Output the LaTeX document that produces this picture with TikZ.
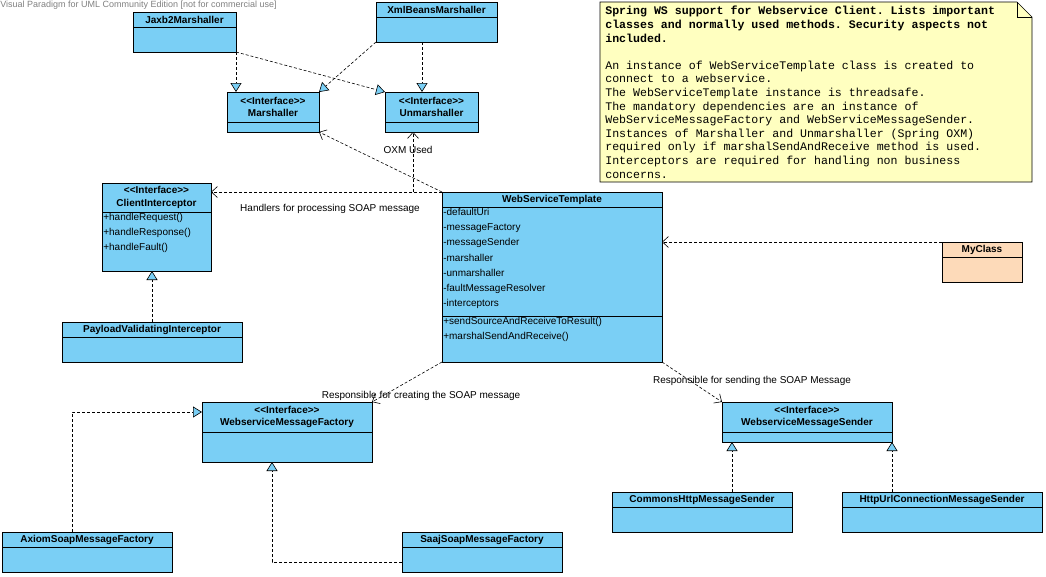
\documentclass[tikz,border=0pt]{standalone}
\usepackage{fontspec}
\setmainfont{Liberation Sans}
\setmonofont{Liberation Mono}
\usetikzlibrary{arrows.meta,positioning}
\definecolor{clsblue}{RGB}{122,207,245}
\definecolor{notey}{RGB}{255,255,192}
\definecolor{myorange}{RGB}{253,218,185}
\tikzset{
  real/.style={densely dashed,-{Triangle[open,fill=clsblue,length=9pt,width=11pt]}},
  dep/.style={densely dashed,-{Straight Barb[length=6pt,width=11pt]}},
  hdr/.style={font=\bfseries\fontsize{10}{12.5}\selectfont,align=center,inner sep=0pt},
  mem/.style={font=\fontsize{10}{15.2}\selectfont,align=left,anchor=north west,inner sep=1pt},
  lbl/.style={font=\fontsize{10}{11}\selectfont,inner sep=1pt}
}
\newcommand{\st}{<\kern0pt<Interface>\kern0pt>}
% class box: name, x1, y1, x2, y2, separator y, header text, fill
\newcommand{\umlbox}[8]{%
  \draw[fill=#8] (#2,#3) rectangle (#4,#5);
  \draw (#2,#6) -- (#4,#6);
  \node[hdr] (#1) at ({(#2+#4)/2},{(#3+#6)/2}) {#7};
  \coordinate (#1-nw) at (#2,#3);
  \coordinate (#1-se) at (#4,#5);
}
\begin{document}
\begin{tikzpicture}[x=1pt,y=-1pt,semithick]
\useasboundingbox (0,0) rectangle (1046,576);

\node[anchor=north west,text=gray,font=\fontsize{9}{10}\selectfont,inner sep=0pt] (wm) at (0,1) {Visual Paradigm for UML Community Edition [not for commercial use]};

% marshallers
\umlbox{jaxb}{133}{12}{236}{52}{27}{Jaxb2Marshaller}{clsblue}
\umlbox{xmlb}{376}{2}{497}{42}{17}{XmlBeansMarshaller}{clsblue}
\umlbox{marsh}{227}{92}{319}{132}{122}{\st\\Marshaller}{clsblue}
\umlbox{unmarsh}{385}{92}{478}{132}{122}{\st\\Unmarshaller}{clsblue}

% interceptors
\umlbox{cint}{102}{183}{211}{271}{212}{\st\\ClientInterceptor}{clsblue}
\node[mem] (cintm) at (102,212) {+handleRequest()\\+handleResponse()\\+handleFault()};
\umlbox{pvi}{62}{322}{242}{362}{337}{PayloadValidatingInterceptor}{clsblue}

% template
\umlbox{wst}{442}{192}{662}{362}{207}{WebServiceTemplate}{clsblue}
\draw (442,316) -- (662,316);
\node[mem] (wsta) at (442,207) {-defaultUri\\-messageFactory\\-messageSender\\-marshaller\\-unmarshaller\\-faultMessageResolver\\-interceptors};
\node[mem] (wstm) at (442,316) {+sendSourceAndReceiveToResult()\\+marshalSendAndReceive()};
\umlbox{mycls}{942}{242}{1022}{282}{257}{MyClass}{myorange}

% note
\draw[fill=notey] (600,2) -- (1017,2) -- (1032,17) -- (1032,182) -- (600,182) -- cycle;
\draw (1017,2) -- (1017,17) -- (1032,17);
\node[anchor=north west,align=left,inner sep=0pt,font=\ttfamily\fontsize{11.6}{13.6}\selectfont] (note) at (605,6)
 {\textbf{Spring WS support for Webservice Client. Lists important}\\
  \textbf{classes and normally used methods. Security aspects not}\\
  \textbf{included.}\\[13.6pt]
  An instance of WebServiceTemplate class is created to\\
  connect to a webservice.\\
  The WebServiceTemplate instance is threadsafe.\\
  The mandatory dependencies are an instance of\\
  WebServiceMessageFactory and WebServiceMessageSender.\\
  Instances of Marshaller and Unmarshaller (Spring OXM)\\
  required only if marshalSendAndReceive method is used.\\
  Interceptors are required for handling non business\\
  concerns.};

% factories and senders
\umlbox{fact}{202}{402}{372}{462}{432}{\st\\WebserviceMessageFactory}{clsblue}
\umlbox{send}{722}{402}{892}{442}{432}{\st\\WebserviceMessageSender}{clsblue}
\umlbox{chms}{612}{492}{792}{532}{507}{CommonsHttpMessageSender}{clsblue}
\umlbox{hucms}{842}{492}{1042}{532}{507}{HttpUrlConnectionMessageSender}{clsblue}
\umlbox{axiom}{2}{532}{172}{572}{547}{AxiomSoapMessageFactory}{clsblue}
\umlbox{saaj}{402}{532}{562}{572}{547}{SaajSoapMessageFactory}{clsblue}

% realizations
\draw[real] (jaxb-se) -- (jaxb-se|-marsh-nw);
\draw[real] (jaxb-se) -- (unmarsh-nw);
\draw[real] (xmlb-nw|-xmlb-se) -- (marsh-se|-marsh-nw);
\draw[real] (422,42) -- (422,92);
\draw[real] (152,322) -- (152,271);
\draw[real] (732,492) -- (732,442);
\draw[real] (892,492) -- (892,442);
\draw[real] (72,532) -- (72,412) -- (202,412);
\draw[real] (402,562) -- (272,562) -- (272,462);

% dependencies
\draw[dep] (wst-nw) -- (marsh-se);
\node[lbl] (oxm) at (408,150) {OXM Used};
\draw[dep] (413,192) -- (413,132);
\draw[dep] (wst-nw) -- (211,192);
\node[lbl] (hnd) at (330,209) {Handlers for processing SOAP message};
\draw[dep] (mycls-nw|-242,242) -- (662,242);
\draw[dep] (wst-nw|-wst-se) -- (372,402);
\node[lbl] (crt) at (421,396) {Responsible for creating the SOAP message};
\draw[dep] (wst-se) -- (722,402);
\node[lbl] (snd) at (752,381) {Responsible for sending the SOAP Message};
\end{tikzpicture}
\end{document}
